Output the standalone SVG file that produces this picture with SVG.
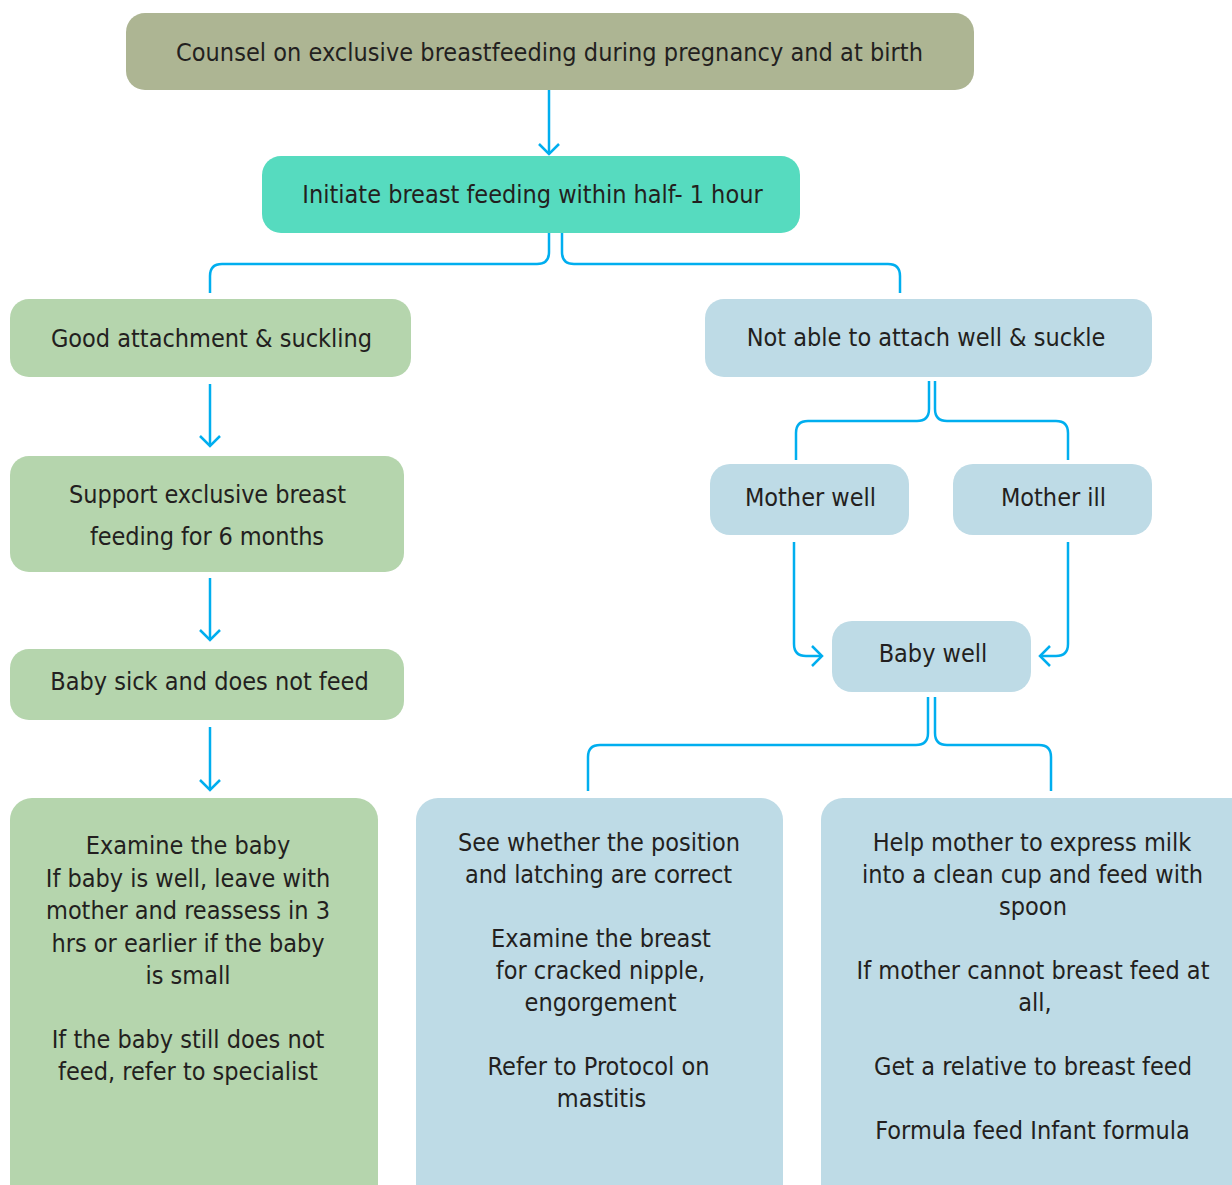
<svg xmlns="http://www.w3.org/2000/svg" width="1232" height="1185" viewBox="0 0 1232 1185">
<style>
text{font-family:"DejaVu Sans Condensed","DejaVu Sans","Liberation Sans",sans-serif;font-size:25px;fill:#231f20;text-anchor:middle}
.olive{fill:#adb593}
.teal{fill:#56dbbf}
.green{fill:#b5d5ad}
.blue{fill:#bedbe6}
.con{fill:none;stroke:#00aeef;stroke-width:2.5}
</style>
<defs>
<marker id="arr" markerUnits="userSpaceOnUse" markerWidth="24" markerHeight="24" viewBox="0 0 24 24" refX="12" refY="12" orient="auto">
<path d="M2,2 L12,12 L2,22" fill="none" stroke="#00aeef" stroke-width="2.5"/>
</marker>
</defs>
<rect width="1232" height="1185" fill="#ffffff"/>
<g id="connectors">
<path class="con" d="M549,90 V154" marker-end="url(#arr)"/>
<path class="con" d="M549,233 V252 Q549,264 537,264 H222 Q210,264 210,276 V293"/>
<path class="con" d="M562,233 V252 Q562,264 574,264 H888 Q900,264 900,276 V293"/>
<path class="con" d="M210,384 V446" marker-end="url(#arr)"/>
<path class="con" d="M210,578 V640" marker-end="url(#arr)"/>
<path class="con" d="M210,727 V790" marker-end="url(#arr)"/>
<path class="con" d="M929,381 V409 Q929,421 917,421 H808 Q796,421 796,433 V460"/>
<path class="con" d="M935,381 V409 Q935,421 947,421 H1056 Q1068,421 1068,433 V460"/>
<path class="con" d="M794,542 V644 Q794,656 806,656 H822" marker-end="url(#arr)"/>
<path class="con" d="M1068,542 V644 Q1068,656 1056,656 H1040" marker-end="url(#arr)"/>
<path class="con" d="M928,697 V733 Q928,745 916,745 H600 Q588,745 588,757 V791"/>
<path class="con" d="M935,697 V733 Q935,745 947,745 H1039 Q1051,745 1051,757 V791"/>
</g>
<g id="counsel">
<rect class="olive" x="126" y="13" width="848" height="77" rx="19"/>
<text x="549.5" y="61" textLength="747" lengthAdjust="spacing">Counsel on exclusive breastfeeding during pregnancy and at birth</text>
</g>
<g id="initiate">
<rect class="teal" x="262" y="156" width="538" height="77" rx="19"/>
<text x="532.5" y="203">Initiate breast feeding within half- 1 hour</text>
</g>
<g id="good-attachment">
<rect class="green" x="10" y="299" width="401" height="78" rx="19"/>
<text x="211.5" y="347">Good attachment &amp; suckling</text>
</g>
<g id="not-able">
<rect class="blue" x="705" y="299" width="447" height="78" rx="19"/>
<text x="926" y="346">Not able to attach well &amp; suckle</text>
</g>
<g id="support">
<rect class="green" x="10" y="456" width="394" height="116" rx="19"/>
<text x="207.5" y="503" textLength="277" lengthAdjust="spacing">Support exclusive breast</text>
<text x="207" y="545" textLength="234" lengthAdjust="spacing">feeding for 6 months</text>
</g>
<g id="baby-sick">
<rect class="green" x="10" y="649" width="394" height="71" rx="19"/>
<text x="209.5" y="690">Baby sick and does not feed</text>
</g>
<g id="mother-well">
<rect class="blue" x="710" y="464" width="199" height="71" rx="20"/>
<text x="810.5" y="506">Mother well</text>
</g>
<g id="mother-ill">
<rect class="blue" x="953" y="464" width="199" height="71" rx="20"/>
<text x="1053.5" y="506">Mother ill</text>
</g>
<g id="baby-well">
<rect class="blue" x="832" y="621" width="199" height="71" rx="20"/>
<text x="933" y="662">Baby well</text>
</g>
<g id="examine-baby">
<rect class="green" x="10" y="798" width="368" height="420" rx="22"/>
<text x="188" y="854">Examine the baby</text>
<text x="188" y="887">If baby is well, leave with</text>
<text x="188" y="919" textLength="284" lengthAdjust="spacing">mother and reassess in 3</text>
<text x="188" y="952">hrs or earlier if the baby</text>
<text x="188" y="984">is small</text>
<text x="188" y="1048">If the baby still does not</text>
<text x="188" y="1080">feed, refer to specialist</text>
</g>
<g id="see-position">
<rect class="blue" x="416" y="798" width="367" height="420" rx="22"/>
<text x="599" y="851" textLength="282" lengthAdjust="spacing">See whether the position</text>
<text x="598.5" y="883" textLength="267" lengthAdjust="spacing">and latching are correct</text>
<text x="601" y="947">Examine the breast</text>
<text x="600.5" y="979">for cracked nipple,</text>
<text x="600.5" y="1011">engorgement</text>
<text x="598.5" y="1075">Refer to Protocol on</text>
<text x="601.5" y="1107">mastitis</text>
</g>
<g id="express-milk">
<rect class="blue" x="821" y="798" width="440" height="420" rx="22"/>
<text x="1032" y="851">Help mother to express milk</text>
<text x="1032.5" y="883">into a clean cup and feed with</text>
<text x="1033" y="915">spoon</text>
<text x="1033" y="979">If mother cannot breast feed at</text>
<text x="1035" y="1011">all,</text>
<text x="1033" y="1075">Get a relative to breast feed</text>
<text x="1032.5" y="1139">Formula feed Infant formula</text>
</g>
</svg>
